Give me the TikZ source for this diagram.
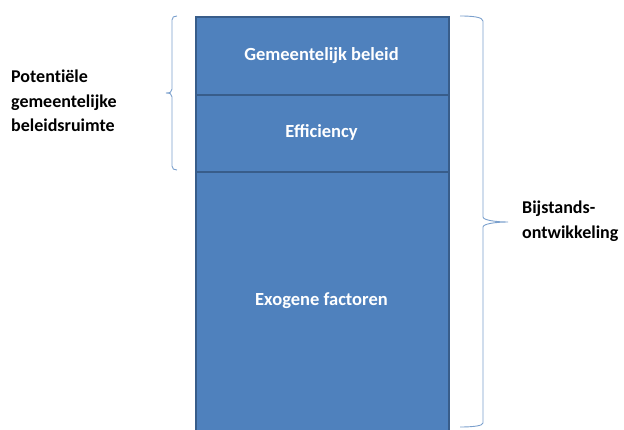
\documentclass[tikz,border=0pt]{standalone}
\usepackage{fontspec}
\setmainfont{Carlito}
\newfontfamily\carlitonolig{Carlito}[Ligatures=NoCommon,Contextuals=NoAlternate]
\definecolor{boxblue}{HTML}{4F81BD}
\definecolor{boxedge}{HTML}{385D8A}
\definecolor{bracecol}{HTML}{7BA0CD}
\begin{document}
\begin{tikzpicture}[x=1pt,y=-1pt,
  box/.style={draw=boxedge,line width=2pt,fill=boxblue,anchor=north west,inner sep=0pt,minimum width=253pt},
  boxtext/.style={text=white,font=\fontsize{18.5}{22}\selectfont\bfseries,inner sep=0pt},
  brace/.style={draw=bracecol,line width=0.9pt},
  lbl/.style={font=\carlitonolig\fontsize{18}{24.5}\selectfont\bfseries,align=left,inner sep=0pt,text=black}]
\useasboundingbox (0,0) rectangle (624,430);
\begin{scope}
\clip (0,0) rectangle (624,430);
\node[box,minimum height=264pt] (exo) at (195,171) {};
\node[box,minimum height=77pt] (eff) at (195,94) {};
\node[box,minimum height=78pt] (gem) at (195,16) {};
\end{scope}
\node[boxtext] (tgem) at (321.5,56) {Gemeentelijk beleid};
\node[boxtext] (teff) at (321.5,132) {Efficiency};
\node[boxtext] (texo) at (321.5,301) {Exogene factoren};
% left brace
\draw[brace] (177,16) .. controls (174,16) and (172,17) .. (172,20) -- (172,89)
  .. controls (172,92) and (170,93) .. (166,93) .. controls (170,93) and (172,94) .. (172,97)
  -- (172,166) .. controls (172,169) and (174,170) .. (177,170);
% right brace
\draw[brace] (460,16) .. controls (472,16) and (483,17) .. (483,21) -- (483,217)
  .. controls (483,220) and (495,222) .. (508,222) .. controls (495,222) and (483,224) .. (483,227)
  -- (483,423) .. controls (483,426) and (472,427) .. (460,427);
\node[lbl,anchor=west] (lt) at (11,101) {Potent\hbox{i}ële\\gemeentelijke\\beleidsruimte};
\node[lbl,anchor=west] (rt) at (522,221) {Bijstands-\\ontwikkeling};
\end{tikzpicture}
\end{document}
